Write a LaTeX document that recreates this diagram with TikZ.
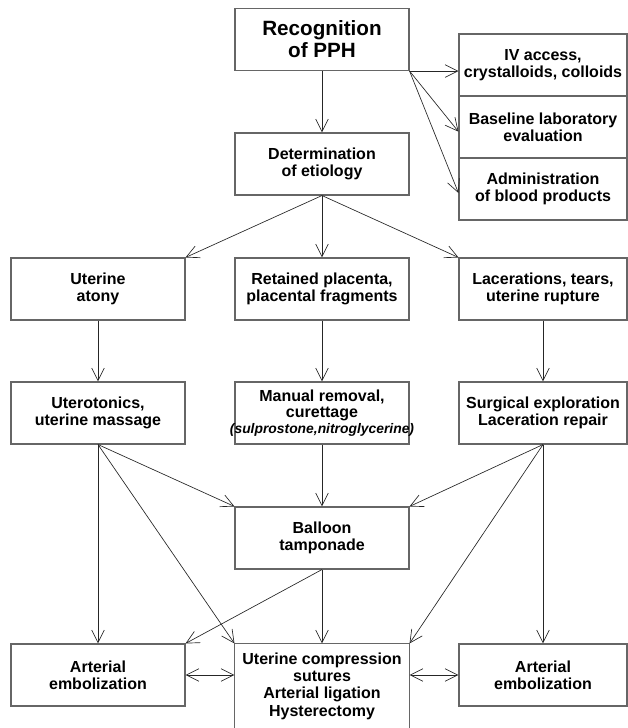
\documentclass[tikz,border=0pt]{standalone}
\usepackage{fontspec}
\setmainfont{Liberation Sans}
\usetikzlibrary{arrows.meta}
\begin{document}
\begin{tikzpicture}[x=0.75pt, y=-0.75pt,
    box/.style={draw=black!60, line width=0.8pt, minimum width=130.5pt, minimum height=46.5pt, inner sep=0pt, align=center, font=\fontsize{12}{13}\selectfont\bfseries},
    sidebox/.style={box, minimum width=126pt},
    link/.style={draw=black!85, line width=0.5pt, -{Straight Barb[length=9.5pt,width=9.5pt]}},
    both/.style={link, {Straight Barb[length=9.5pt,width=9.5pt]}-{Straight Barb[length=9.5pt,width=9.5pt]}}]
    \useasboundingbox (0,0) rectangle (628,728);
    \node[box, font=\fontsize{15.5}{16.5}\selectfont\bfseries] (rec) at (322,39.5) {Recognition\\of PPH};
    \node[sidebox] (iv) at (543,65) {IV access,\\crystalloids, colloids};
    \node[sidebox] (lab) at (543,127) {Baseline laboratory\\evaluation};
    \node[sidebox] (blood) at (543,189) {Administration\\of blood products};
    \node[box] (det) at (322,164) {Determination\\of etiology};
    \node[box] (atony) at (98,289) {Uterine\\atony};
    \node[box] (plac) at (322,289) {Retained placenta,\\placental fragments};
    \node[sidebox] (lac) at (543,289) {Lacerations, tears,\\uterine rupture};
    \node[box] (uto) at (98,413) {Uterotonics,\\uterine massage};
    \node[box, font=\fontsize{12}{12}\selectfont\bfseries] (man) at (322,413) {Manual removal,\\curettage\\\makebox[120pt][c]{\fontsize{10.4}{11.5}\selectfont\itshape(sulprostone,nitroglycerine)}};
    \node[sidebox] (surg) at (543,413) {Surgical exploration\\Laceration repair};
    \node[box] (ball) at (322,538) {Balloon\\tamponade};
    \node[box] (emb1) at (98,675) {Arterial\\embolization};
    \node[box, draw=none, minimum height=63pt] (comp) at (322,686) {Uterine compression\\sutures\\Arterial ligation\\Hysterectomy};
    \node[sidebox] (emb2) at (543,675) {Arterial\\embolization};
    \draw[draw=black!60, line width=0.8pt] (comp.south west) -- (comp.north west) -- (comp.north east) -- (comp.south east);
    \draw[link] (rec.south) -- (det.north);
    \draw[link] (rec.south east) -- (iv.west |- rec.south east);
    \draw[link] (rec.south east) -- ([yshift=-3.5pt]lab.west);
    \draw[link] (rec.south east) -- ([yshift=-3pt]blood.west);
    \draw[link] (det.south) -- (atony.north east);
    \draw[link] (det.south) -- (plac.north);
    \draw[link] (det.south) -- (lac.north west);
    \draw[link] (atony.south) -- (uto.north);
    \draw[link] (plac.south) -- (man.north);
    \draw[link] (lac.south) -- (surg.north);
    \draw[link] (uto.south) -- (ball.north west);
    \draw[link] (uto.south) -- (emb1.north);
    \draw[link] (uto.south) -- (comp.north west);
    \draw[link] (man.south) -- (ball.north);
    \draw[link] (surg.south) -- (ball.north east);
    \draw[link] (surg.south) -- (comp.north east);
    \draw[link] (surg.south) -- (emb2.north);
    \draw[link] (ball.south) -- (emb1.north east);
    \draw[link] (ball.south) -- (comp.north);
    \draw[both] (emb1.east) -- (comp.west |- emb1.east);
    \draw[both] (emb2.west) -- (comp.east |- emb2.west);
\end{tikzpicture}
\end{document}
